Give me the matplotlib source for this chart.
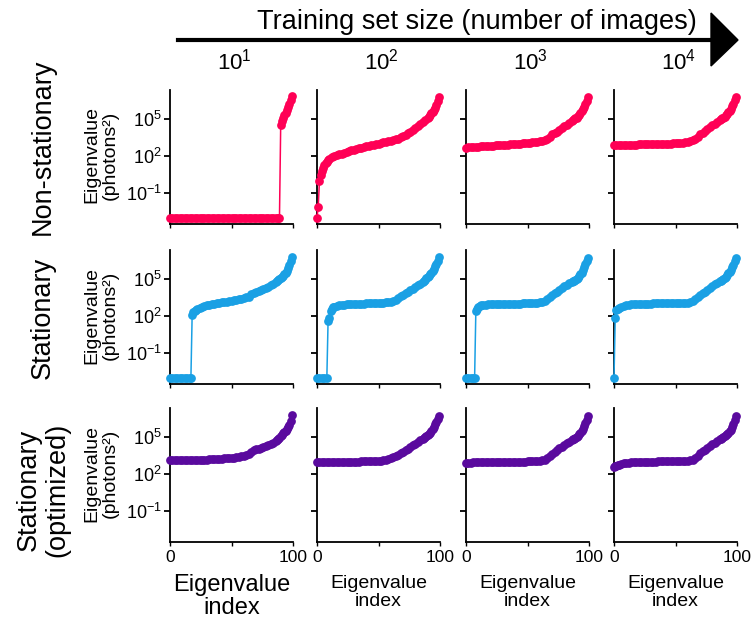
import numpy as np
import matplotlib.pyplot as plt
from matplotlib.lines import Line2D
from matplotlib.patches import Polygon
from matplotlib.ticker import NullLocator

plt.rcParams['font.family'] = ['Liberation Sans', 'DejaVu Sans']
plt.rcParams['mathtext.default'] = 'regular'

# ---- data: eigenvalue index and log10(eigenvalue) ----
# zero eigenvalues are drawn at the floor 1e-3
row_names = ['Non-stationary', 'Stationary', 'Stationary\n(optimized)']
col_labels = ['10$^{1}$', '10$^{2}$', '10$^{3}$', '10$^{4}$']
colors = ['#FF0055', '#1AA0E4', '#5A0A9E']

# index grid shared by the panels without a jump
idx_std = [0, 2, 4, 6, 8, 10, 12, 14, 16, 18,
           20, 22, 24, 26, 28, 30, 32, 34, 36, 38,
           40, 42, 44, 46, 48, 50, 52, 54, 56, 58,
           60, 62, 64, 66, 68, 70, 72, 74, 76, 78,
           80, 82, 84,
           86, 87, 88, 89, 90, 91, 92, 93, 94, 95, 96, 97, 98, 99]

# Non-stationary
ns1_idx = [0, 2, 4, 6, 8, 10, 12, 14, 16, 18,
           20, 22, 24, 26, 28, 30, 32, 34, 36, 38,
           40, 42, 44, 46, 48, 50, 52, 54, 56, 58,
           60, 62, 64, 66, 68, 70, 72, 74, 76, 78,
           80, 82, 84, 86, 88, 89,
           90, 91, 92, 93, 94, 95, 96, 97, 98, 99]
ns1_log = [-3] * 46 + [4.5, 4.8, 5.1, 5.3, 5.5, 5.7, 5.95, 6.2, 6.5, 6.88]

ns2_idx = [0, 1, 2, 3, 4, 5, 6, 7, 8, 9,
           10, 12, 14, 16, 18, 20, 22, 24, 26, 28,
           30, 32, 34, 36, 38, 40, 42, 44, 46, 48,
           50, 52, 54, 56, 58, 60, 62, 64, 66, 68,
           70, 72, 74, 76, 78, 80, 82, 84, 86, 88,
           90, 91, 92, 93, 94, 95, 96, 97, 98, 99]
ns2_log = [-3.0, -2.1, 0.0, 0.5, 0.8, 1.05, 1.25, 1.4, 1.55, 1.68,
           1.78, 1.9, 2.0, 2.08, 2.14, 2.2, 2.27, 2.34, 2.4, 2.46,
           2.52, 2.57, 2.62, 2.68, 2.73, 2.78, 2.82, 2.87, 2.92, 2.97,
           3.01, 3.05, 3.1, 3.14, 3.19, 3.23, 3.29, 3.35, 3.42, 3.52,
           3.62, 3.72, 3.85, 3.98, 4.12, 4.25, 4.4, 4.58, 4.75, 4.92,
           5.1, 5.2, 5.32, 5.45, 5.6, 5.75, 5.9, 6.15, 6.45, 6.8]

ns3_log = [2.69, 2.71, 2.72, 2.74, 2.75, 2.77, 2.78, 2.8, 2.81, 2.82,
           2.84, 2.85, 2.86, 2.88, 2.89, 2.9, 2.92, 2.93, 2.94, 2.96,
           2.97, 2.99, 3.0, 3.02, 3.04, 3.06, 3.08, 3.1, 3.13, 3.17,
           3.21, 3.26, 3.32, 3.42, 3.58, 3.75, 3.88, 3.98, 4.1, 4.28,
           4.42, 4.55, 4.68,
           4.82, 4.9, 4.98, 5.05, 5.12, 5.22, 5.35, 5.5, 5.65, 5.82, 6.0, 6.18, 6.45, 6.8]

ns4_log = [2.88, 2.89, 2.89, 2.9, 2.91, 2.91, 2.92, 2.92, 2.93, 2.93,
           2.94, 2.94, 2.95, 2.95, 2.96, 2.96, 2.97, 2.97, 2.98, 2.98,
           2.99, 3.0, 3.0, 3.01, 3.02, 3.03, 3.04, 3.05, 3.07, 3.1,
           3.14, 3.2, 3.29, 3.42, 3.58, 3.75, 3.89, 4.02, 4.18, 4.35,
           4.5, 4.62, 4.75,
           4.9, 4.97, 5.05, 5.12, 5.2, 5.3, 5.42, 5.55, 5.68, 5.85, 6.05, 6.25, 6.5, 6.8]

# Stationary
st1_idx = [0, 2, 4, 6, 8, 10, 12, 14, 16, 17,
           18, 19, 20, 21, 22, 24, 26, 28, 30, 32,
           34, 36, 38, 40, 42, 44, 46, 48, 50, 52,
           54, 56, 58, 60, 62, 64, 66, 68, 70, 72,
           74, 76, 78, 80, 82, 84, 86, 87, 88, 89,
           90, 91, 92, 93, 94, 95, 96, 97, 98, 99]
st1_log = [-3] * 10 + [
           2.05, 2.3, 2.45, 2.52, 2.58, 2.66, 2.73, 2.8, 2.86, 2.9,
           2.94, 2.98, 3.02, 3.06, 3.1, 3.14, 3.18, 3.22, 3.26, 3.3,
           3.34, 3.38, 3.42, 3.46, 3.52, 3.58, 3.78, 3.9, 3.98, 4.04,
           4.1, 4.18, 4.26, 4.36, 4.48, 4.6, 4.75, 4.83, 4.9, 4.98,
           5.06, 5.15, 5.25, 5.38, 5.52, 5.68, 5.88, 6.12, 6.42, 6.78]

st2_idx = [0, 2, 4, 6, 8, 9, 10, 11, 12, 13,
           14, 16, 18, 20, 22, 24, 26, 28, 30, 32,
           34, 36, 38, 40, 42, 44, 46, 48, 50, 52,
           54, 56, 58, 60, 62, 64, 66, 68, 70, 72,
           74, 76, 78, 80, 82, 84, 86, 87, 88, 89,
           90, 91, 92, 93, 94, 95, 96, 97, 98, 99]
st2_log = [-3] * 5 + [
           1.57, 1.84, 2.43, 2.6, 2.7,
           2.76, 2.83, 2.88, 2.91, 2.93, 2.95, 2.96, 2.97, 2.98, 2.99,
           3.0, 3.01, 3.01, 3.02, 3.03, 3.04, 3.04, 3.05, 3.06, 3.07,
           3.08, 3.1, 3.12, 3.16, 3.22, 3.32, 3.45, 3.6, 3.72, 3.85,
           3.98, 4.1, 4.22, 4.36, 4.5, 4.63, 4.78, 4.88, 4.96, 5.05,
           5.14, 5.25, 5.38, 5.52, 5.68, 5.85, 6.05, 6.25, 6.48, 6.75]

st3_idx = [0, 2, 4, 6, 7, 8, 9, 10, 11, 12,
           14, 16, 18, 20, 22, 24, 26, 28, 30, 32,
           34, 36, 38, 40, 42, 44, 46, 48, 50, 52,
           54, 56, 58, 60, 62, 64, 66, 68, 70, 72,
           74, 76, 78, 80, 82, 84, 86, 87, 88, 89,
           90, 91, 92, 93, 94, 95, 96, 97, 98, 99]
st3_log = [-3] * 5 + [
           2.38, 2.55, 2.7, 2.8, 2.86,
           2.9, 2.93, 2.94, 2.95, 2.96, 2.97, 2.97, 2.98, 2.98, 2.99,
           2.99, 3.0, 3.0, 3.0, 3.01, 3.01, 3.02, 3.02, 3.03, 3.03,
           3.04, 3.05, 3.07, 3.1, 3.15, 3.24, 3.36, 3.52, 3.7, 3.84,
           3.95, 4.12, 4.27, 4.4, 4.52, 4.64, 4.76, 4.82, 4.88, 4.95,
           5.03, 5.12, 5.24, 5.38, 5.52, 5.7, 5.95, 6.18, 6.45, 6.7]

st4_idx = [0, 1, 2, 3, 4, 6, 8, 10, 12, 14,
           16, 18, 20, 22, 24, 26, 28, 30, 32, 34,
           36, 38, 40, 42, 44, 46, 48, 50, 52, 54,
           56, 58, 60, 62, 64, 66, 68, 70, 72, 74,
           76, 78, 80, 82, 84, 86, 87, 88, 89, 90,
           91, 92, 93, 94, 95, 96, 97, 98, 99]
st4_log = [-3.0, 1.84, 2.5, 2.6, 2.67, 2.76, 2.82, 2.88, 2.92, 2.95,
           2.97, 2.98, 2.99, 3.0, 3.0, 3.01, 3.01, 3.01, 3.02, 3.02,
           3.02, 3.02, 3.03, 3.03, 3.03, 3.03, 3.03, 3.04, 3.04, 3.04,
           3.05, 3.06, 3.08, 3.13, 3.22, 3.35, 3.52, 3.72, 3.86, 3.98,
           4.12, 4.3, 4.45, 4.58, 4.7, 4.82, 4.88, 4.95, 5.02, 5.1,
           5.2, 5.32, 5.45, 5.58, 5.72, 5.95, 6.16, 6.45, 6.7]

# Stationary (optimized)
so1_log = [3.11, 3.11, 3.11, 3.12, 3.12, 3.12, 3.13, 3.13, 3.13, 3.14,
           3.14, 3.15, 3.15, 3.16, 3.17, 3.18, 3.19, 3.2, 3.21, 3.22,
           3.24, 3.25, 3.27, 3.29, 3.31, 3.32, 3.34, 3.37, 3.4, 3.44,
           3.47, 3.51, 3.6, 3.78, 3.92, 3.99, 4.05, 4.12, 4.2, 4.28,
           4.36, 4.44, 4.52,
           4.66, 4.75, 4.85, 4.95, 5.08, 5.18, 5.3, 5.4, 5.5, 5.62, 5.8, 6.0, 6.3, 6.76]

so2_log = [2.95, 2.96, 2.96, 2.97, 2.97, 2.97, 2.98, 2.98, 2.98, 2.99,
           2.99, 2.99, 3.0, 3.0, 3.0, 3.01, 3.01, 3.01, 3.02, 3.02,
           3.02, 3.03, 3.03, 3.04, 3.05, 3.07, 3.09, 3.12, 3.16, 3.21,
           3.27, 3.35, 3.44, 3.56, 3.68, 3.8, 3.93, 4.06, 4.2, 4.34,
           4.46, 4.58, 4.72,
           4.86, 4.93, 5.0, 5.08, 5.17, 5.26, 5.36, 5.48, 5.62, 5.78, 6.02, 6.2, 6.42, 6.68]

so3_log = [2.92, 2.93, 2.93, 2.94, 2.94, 2.95, 2.95, 2.96, 2.96, 2.97,
           2.97, 2.97, 2.98, 2.98, 2.98, 2.99, 2.99, 2.99, 3.0, 3.0,
           3.0, 3.0, 3.01, 3.01, 3.01, 3.02, 3.02, 3.02, 3.03, 3.04,
           3.06, 3.1, 3.18, 3.28, 3.45, 3.62, 3.8, 3.95, 4.08, 4.22,
           4.36, 4.48, 4.6,
           4.74, 4.81, 4.88, 4.95, 5.03, 5.12, 5.22, 5.34, 5.48, 5.66, 5.9, 6.12, 6.4, 6.68]

so4_idx = [0, 1, 2, 3, 4, 6, 8, 10, 12, 14,
           16, 18, 20, 22, 24, 26, 28, 30, 32, 34,
           36, 38, 40, 42, 44, 46, 48, 50, 52, 54,
           56, 58, 60, 62, 64, 66, 68, 70, 72, 74,
           76, 78, 80, 82, 84, 86, 87, 88, 89, 90,
           91, 92, 93, 94, 95, 96, 97, 98, 99]
so4_log = [2.57, 2.62, 2.66, 2.7, 2.74, 2.8, 2.86, 2.9, 2.93, 2.95,
           2.97, 2.98, 2.99, 3.0, 3.0, 3.0, 3.01, 3.01, 3.01, 3.01,
           3.02, 3.02, 3.02, 3.02, 3.02, 3.02, 3.03, 3.03, 3.03, 3.03,
           3.03, 3.04, 3.05, 3.1, 3.18, 3.3, 3.48, 3.68, 3.86, 3.98,
           4.12, 4.28, 4.43, 4.55, 4.67, 4.8, 4.86, 4.92, 4.99, 5.07,
           5.16, 5.26, 5.36, 5.46, 5.58, 5.82, 6.08, 6.38, 6.68]

panels = [
    [(ns1_idx, ns1_log), (ns2_idx, ns2_log), (idx_std, ns3_log), (idx_std, ns4_log)],
    [(st1_idx, st1_log), (st2_idx, st2_log), (st3_idx, st3_log), (st4_idx, st4_log)],
    [(idx_std, so1_log), (idx_std, so2_log), (idx_std, so3_log), (so4_idx, so4_log)],
]

# ---- layout (pixels) ----
W, H = 753, 626
lefts = [170, 317, 466, 614]
tops = [90, 250, 408]
aw, ah = 123, 134


def fx(x):
    return x / W


def fy(y):
    return 1 - y / H


fig = plt.figure(figsize=(W / 100, H / 100), dpi=100)

for r in range(3):
    for c in range(4):
        ax = fig.add_axes([fx(lefts[c]), fy(tops[r] + ah), aw / W, ah / H])
        idx, lg = panels[r][c]
        ax.plot(idx, 10.0 ** np.array(lg), '-o', color=colors[r], ms=6.3, mew=0,
                lw=1.1, clip_on=False, zorder=3)
        ax.set_yscale('log')
        ax.set_ylim(10 ** -3.5, 10 ** 7.35)
        ax.set_xlim(0, 100)
        ax.spines['top'].set_visible(False)
        ax.spines['right'].set_visible(False)
        for s in ['left', 'bottom']:
            ax.spines[s].set_linewidth(1.3)
        ax.set_yticks([1e-1, 1e2, 1e5])
        ax.yaxis.set_minor_locator(NullLocator())
        ax.set_xticks([0, 50, 100])
        ax.tick_params(axis='y', length=4, width=1.3, labelsize=13, pad=2)
        ax.tick_params(axis='x', length=3, width=1.0, labelsize=12.5, pad=3)
        if c == 0:
            ax.set_yticklabels(['10$^{-1}$', '10$^{2}$', '10$^{5}$'])
            fig.text(fx(101), fy(tops[r] + ah / 2 - 2), 'Eigenvalue\n(photons\u00b2)',
                     rotation=90, ha='center', va='center', fontsize=14,
                     linespacing=1.15)
        else:
            ax.set_yticklabels([])
        if r == 2:
            ax.set_xticklabels(['0', '', '100'])
            if c == 0:
                ax.set_xlabel('Eigenvalue\nindex', fontsize=17, labelpad=6,
                              linespacing=1.1)
            else:
                ax.set_xlabel('Eigenvalue\nindex', fontsize=14, labelpad=7,
                              linespacing=1.05)
        else:
            ax.set_xticklabels([])

# row labels
row_y = [147, 318, 490]
for r in range(3):
    fig.text(fx(43), fy(row_y[r]), row_names[r], rotation=90, ha='center',
             va='center', fontsize=19.5, linespacing=1.15)

# top arrow and labels
fig.add_artist(Line2D([fx(178), fx(714)], [fy(40), fy(40)], color='black', lw=3,
                      transform=fig.transFigure))
fig.add_artist(Polygon([[fx(711), fy(13)], [fx(738), fy(40)], [fx(711), fy(66)]],
                       closed=True, color='black', transform=fig.transFigure))
fig.text(fx(477), fy(22), 'Training set size (number of images)', ha='center',
         va='center', fontsize=19.5)
for c in range(4):
    fig.text(fx(lefts[c] + aw / 2 + 3), fy(62), col_labels[c], ha='center',
             va='center', fontsize=16)

fig.savefig('out.png', dpi=100)
